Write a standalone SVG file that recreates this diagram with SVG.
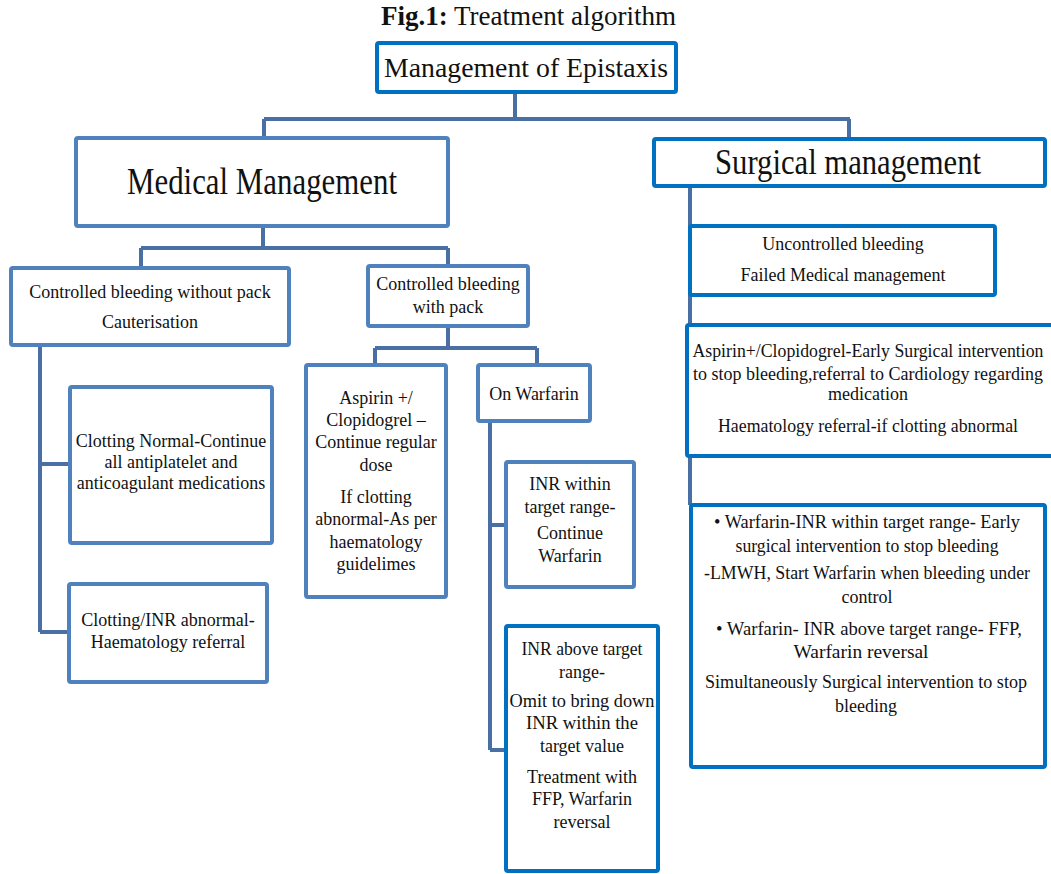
<svg xmlns="http://www.w3.org/2000/svg" width="1051" height="874" viewBox="0 0 1051 874">
<style>
text{font-family:"Liberation Serif","Times New Roman",serif;fill:#111;text-anchor:middle}
.b{font-size:18px}
.box{fill:#fff;stroke-width:4}
.med{stroke:#4F81BD}
.sur{stroke:#0070C0}
.con{fill:none;stroke:#4A6FA5;stroke-width:4}
</style>
<rect width="1051" height="874" fill="#fff"/>
<text x="381" y="25" style="font-size:27px;text-anchor:start" textLength="295" lengthAdjust="spacingAndGlyphs"><tspan font-weight="bold">Fig.1:</tspan>  Treatment algorithm</text>
<g id="connectors">
<path class="con" d="M515,92V119 M264,119H850 M264,119V138 M849,119V140"/>
<path class="con" d="M263,226V248 M141,248H448 M141,248V268 M448,248V266"/>
<path class="con" d="M40,345V632 M40,464H70 M40,632H69"/>
<path class="con" d="M448,326V348 M375,348H537 M375,348V365 M537,348V365"/>
<path class="con" d="M490,421V750 M490,525H506 M490,750H506"/>
<path class="con" d="M690,186V505"/>
</g>
<g id="n-root"><rect class="box sur" x="377" y="43" width="299" height="49" rx="2"/><text x="526" y="77" style="font-size:28px" textLength="284" lengthAdjust="spacingAndGlyphs">Management of Epistaxis</text></g>
<g id="n-medical"><rect class="box med" x="76" y="138" width="372" height="88" rx="2"/><text x="262" y="194" style="font-size:37px" textLength="270" lengthAdjust="spacingAndGlyphs">Medical Management</text></g>
<g id="n-surgical"><rect class="box sur" x="654" y="139" width="391" height="47" rx="2"/><text x="848" y="174" style="font-size:35px" textLength="266" lengthAdjust="spacingAndGlyphs">Surgical management</text></g>
<g id="n-nopack"><rect class="box med" x="11" y="268" width="278" height="77" rx="2"/><text class="b" x="150" y="298">Controlled bleeding without pack</text><text class="b" x="150" y="328">Cauterisation</text></g>
<g id="n-pack"><rect class="box med" x="368" y="266" width="160" height="60" rx="2"/><text class="b" x="448" y="290">Controlled bleeding</text><text class="b" x="448" y="313">with pack</text></g>
<g id="n-clotnormal"><rect class="box med" x="70" y="387" width="202" height="156" rx="2"/><text class="b" x="171" y="447">Clotting Normal-Continue</text><text class="b" x="171" y="468">all antiplatelet  and</text><text class="b" x="171" y="489">anticoagulant  medications</text></g>
<g id="n-clotabn"><rect class="box med" x="69" y="584" width="198" height="98" rx="2"/><text class="b" x="168" y="626">Clotting/INR  abnormal-</text><text class="b" x="168" y="648">Haematology  referral</text></g>
<g id="n-aspirin"><rect class="box med" x="306" y="365" width="140" height="232" rx="2"/><text class="b" x="376" y="404">Aspirin +/</text><text class="b" x="376" y="426">Clopidogrel –</text><text class="b" x="376" y="448">Continue regular</text><text class="b" x="376" y="471">dose</text><text class="b" x="376" y="503">If clotting</text><text class="b" x="376" y="525">abnormal-As per</text><text class="b" x="376" y="548">haematology</text><text class="b" x="376" y="570">guidelimes</text></g>
<g id="n-warfarin"><rect class="box med" x="478" y="365" width="112" height="56" rx="2"/><text class="b" x="534" y="400">On Warfarin</text></g>
<g id="n-inrwithin"><rect class="box med" x="506" y="462" width="128" height="125" rx="2"/><text class="b" x="570" y="490">INR within</text><text class="b" x="570" y="513">target range-</text><text class="b" x="570" y="539">Continue</text><text class="b" x="570" y="562">Warfarin</text></g>
<g id="n-inrabove"><rect class="box sur" x="506" y="626" width="152" height="245" rx="2"/><text class="b" x="582" y="655" textLength="121" lengthAdjust="spacingAndGlyphs">INR above target</text><text class="b" x="582" y="678">range-</text><text class="b" x="582" y="707" textLength="145" lengthAdjust="spacingAndGlyphs">Omit to bring down</text><text class="b" x="582" y="729" textLength="112" lengthAdjust="spacingAndGlyphs">INR within the</text><text class="b" x="582" y="752">target value</text><text class="b" x="582" y="783">Treatment with</text><text class="b" x="582" y="805">FFP, Warfarin</text><text class="b" x="582" y="828">reversal</text></g>
<g id="n-uncontrolled"><rect class="box sur" x="690" y="226" width="305" height="69" rx="2"/><text class="b" x="843" y="250">Uncontrolled bleeding</text><text class="b" x="843" y="281">Failed Medical management</text></g>
<g id="n-surgaspirin"><rect class="box sur" x="687" y="325" width="370" height="131" rx="2"/><text class="b" x="868" y="357" textLength="351" lengthAdjust="spacingAndGlyphs">Aspirin+/Clopidogrel-Early  Surgical intervention</text><text class="b" x="868" y="380" textLength="350" lengthAdjust="spacingAndGlyphs">to stop bleeding,referral  to Cardiology regarding</text><text class="b" x="868" y="400">medication</text><text class="b" x="868" y="432" textLength="300" lengthAdjust="spacingAndGlyphs">Haematology referral-if clotting  abnormal</text></g>
<g id="n-surgwarfarin"><rect class="box sur" x="691" y="505" width="354" height="262" rx="2"/><text class="b" x="867" y="528" textLength="306" lengthAdjust="spacingAndGlyphs">• Warfarin-INR within target range- Early</text><text class="b" x="867" y="552" textLength="263" lengthAdjust="spacingAndGlyphs">surgical intervention  to stop bleeding</text><text class="b" x="867" y="579" textLength="326" lengthAdjust="spacingAndGlyphs">-LMWH, Start Warfarin  when bleeding  under</text><text class="b" x="867" y="603">control</text><text class="b" x="869" y="635" textLength="306" lengthAdjust="spacingAndGlyphs">• Warfarin- INR above target range- FFP,</text><text class="b" x="861" y="658" textLength="135" lengthAdjust="spacingAndGlyphs">Warfarin  reversal</text><text class="b" x="866" y="688" textLength="322" lengthAdjust="spacingAndGlyphs">Simultaneously Surgical intervention  to stop</text><text class="b" x="866" y="712">bleeding</text></g>
</svg>
